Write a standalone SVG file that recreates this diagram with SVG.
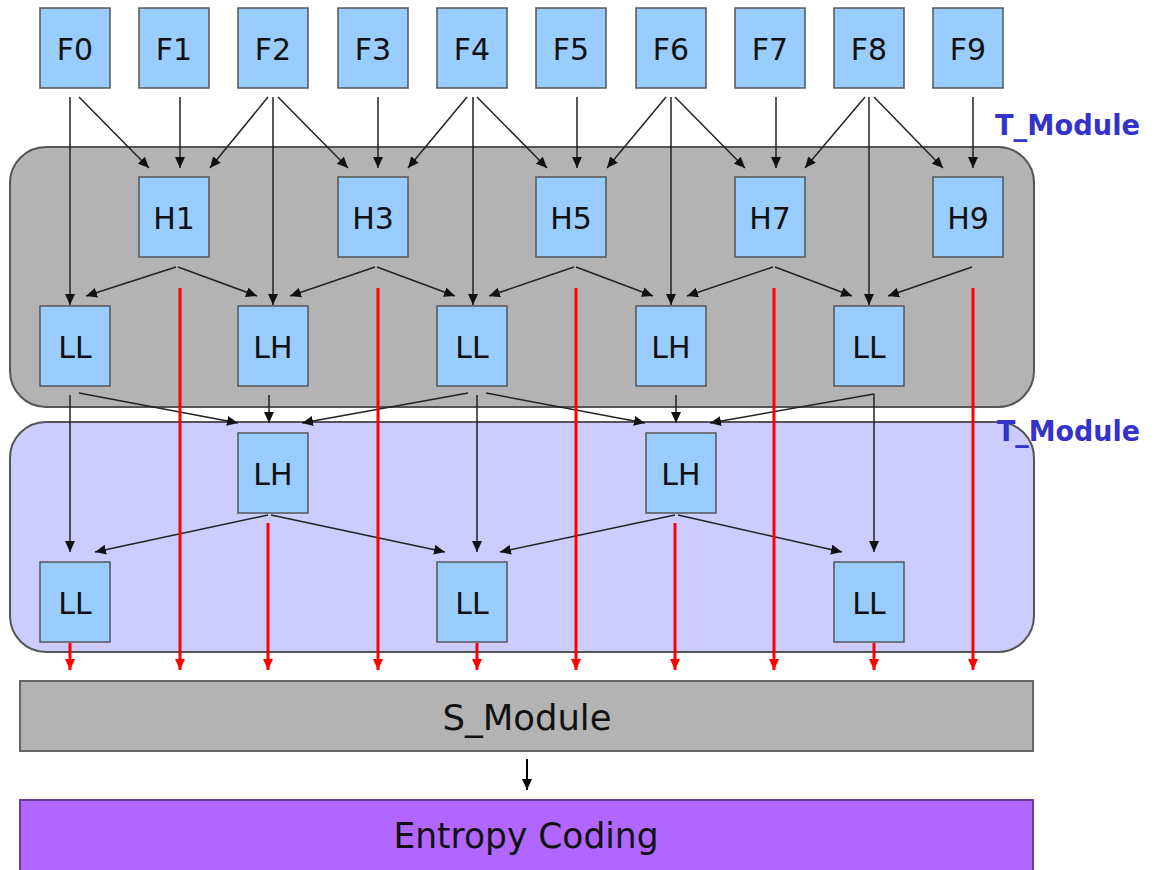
<svg xmlns="http://www.w3.org/2000/svg" width="1157" height="870" viewBox="0 0 1157 870">
  <defs>
    <style>
      .frame { fill: #99ccff; stroke: #555555; stroke-width: 1.5; }
      .lbl { font-family: "DejaVu Sans", "Liberation Sans", sans-serif; font-size: 30px; fill: #111111; text-anchor: middle; }
      .big { font-family: "DejaVu Sans", "Liberation Sans", sans-serif; font-size: 36px; fill: #111111; text-anchor: middle; }
      .tag { font-family: "DejaVu Sans", "Liberation Sans", sans-serif; font-size: 28px; font-weight: bold; fill: #3333cc; }
      .link { stroke: #222222; stroke-width: 1.5; fill: none; marker-end: url(#head); }
      .flow { stroke: #ff0000; stroke-width: 3; fill: none; marker-end: url(#redhead); }
    </style>
    <marker id="head" markerUnits="userSpaceOnUse" markerWidth="12" markerHeight="10" refX="11" refY="5" orient="auto">
      <path d="M0,0 L11,5 L0,10 Z" fill="#111111"/>
    </marker>
    <marker id="redhead" markerUnits="userSpaceOnUse" markerWidth="12" markerHeight="10" refX="11" refY="5" orient="auto">
      <path d="M0,0 L11,5 L0,10 Z" fill="#ff0000"/>
    </marker>
    <marker id="bighead" markerUnits="userSpaceOnUse" markerWidth="12" markerHeight="10" refX="11" refY="5" orient="auto">
      <path d="M0,0 L11,5 L0,10 Z" fill="#000000"/>
    </marker>
  </defs>

  <rect x="0" y="0" width="1157" height="870" fill="#ffffff"/>

  <!-- temporal module regions -->
  <g id="regions">
    <rect id="t-module-1" x="10" y="147" width="1024" height="260" rx="36" ry="36" fill="#b3b3b3" stroke="#555555" stroke-width="2"/>
    <rect id="t-module-2" x="10" y="422" width="1024" height="230" rx="36" ry="36" fill="#ccccff" stroke="#555555" stroke-width="2"/>
    <text class="tag" x="995" y="135" textLength="145" lengthAdjust="spacingAndGlyphs">T_Module</text>
    <text class="tag" x="997" y="441" textLength="143" lengthAdjust="spacingAndGlyphs">T_Module</text>
  </g>

  <!-- connectors -->
  <g id="connectors">
    <!-- input frames to high-pass and low-pass stages -->
    <line class="link" x1="70" y1="97" x2="70" y2="305"/>
    <line class="link" x1="79" y1="97" x2="149" y2="168"/>
    <line class="link" x1="180" y1="97" x2="180" y2="168"/>
    <line class="link" x1="268" y1="97" x2="210" y2="168"/>
    <line class="link" x1="273" y1="97" x2="273" y2="305"/>
    <line class="link" x1="278" y1="97" x2="348" y2="168"/>
    <line class="link" x1="378" y1="97" x2="378" y2="168"/>
    <line class="link" x1="467" y1="97" x2="408" y2="168"/>
    <line class="link" x1="473" y1="97" x2="473" y2="305"/>
    <line class="link" x1="477" y1="97" x2="547" y2="168"/>
    <line class="link" x1="577" y1="97" x2="577" y2="168"/>
    <line class="link" x1="666" y1="97" x2="607" y2="168"/>
    <line class="link" x1="671" y1="97" x2="671" y2="305"/>
    <line class="link" x1="675" y1="97" x2="745" y2="168"/>
    <line class="link" x1="776" y1="97" x2="776" y2="168"/>
    <line class="link" x1="865" y1="97" x2="805" y2="168"/>
    <line class="link" x1="869" y1="97" x2="869" y2="305"/>
    <line class="link" x1="874" y1="97" x2="943" y2="168"/>
    <line class="link" x1="973" y1="97" x2="973" y2="168"/>

    <!-- high-pass frames to first low-pass row -->
    <line class="link" x1="176" y1="267" x2="86" y2="296"/>
    <line class="link" x1="178" y1="267" x2="257" y2="296"/>
    <line class="link" x1="375" y1="267" x2="290" y2="296"/>
    <line class="link" x1="377" y1="267" x2="455" y2="296"/>
    <line class="link" x1="574" y1="267" x2="489" y2="296"/>
    <line class="link" x1="576" y1="267" x2="653" y2="296"/>
    <line class="link" x1="773" y1="267" x2="687" y2="296"/>
    <line class="link" x1="775" y1="267" x2="852" y2="296"/>
    <line class="link" x1="972" y1="267" x2="888" y2="296"/>

    <!-- first low-pass row to second module -->
    <line class="link" x1="70" y1="395" x2="70" y2="552"/>
    <line class="link" x1="79" y1="393" x2="238" y2="423"/>
    <line class="link" x1="269" y1="395" x2="269" y2="423"/>
    <line class="link" x1="468" y1="393" x2="302" y2="423"/>
    <line class="link" x1="477" y1="395" x2="477" y2="552"/>
    <line class="link" x1="486" y1="393" x2="645" y2="423"/>
    <line class="link" x1="676" y1="395" x2="676" y2="423"/>
    <line class="link" x1="874" y1="394" x2="710" y2="423"/>
    <line class="link" x1="874" y1="394" x2="874" y2="552"/>

    <!-- second module high-pass to last low-pass row -->
    <line class="link" x1="268" y1="515" x2="95" y2="552"/>
    <line class="link" x1="271" y1="515" x2="445" y2="552"/>
    <line class="link" x1="675" y1="515" x2="500" y2="552"/>
    <line class="link" x1="678" y1="515" x2="842" y2="552"/>

    <!-- outputs into the spatial module -->
    <line class="flow" x1="180" y1="288" x2="180" y2="670"/>
    <line class="flow" x1="378" y1="288" x2="378" y2="670"/>
    <line class="flow" x1="576" y1="288" x2="576" y2="670"/>
    <line class="flow" x1="774" y1="288" x2="774" y2="670"/>
    <line class="flow" x1="973" y1="288" x2="973" y2="670"/>
    <line class="flow" x1="268" y1="523" x2="268" y2="670"/>
    <line class="flow" x1="675" y1="523" x2="675" y2="670"/>
    <line class="flow" x1="70" y1="643" x2="70" y2="670"/>
    <line class="flow" x1="477" y1="643" x2="477" y2="670"/>
    <line class="flow" x1="874" y1="643" x2="874" y2="670"/>

    <line x1="527" y1="759" x2="527" y2="790" stroke="#000000" stroke-width="2" marker-end="url(#bighead)"/>
  </g>

  <!-- input frames -->
  <g id="F0"><rect class="frame" x="40" y="8" width="70" height="80"/><text class="lbl" x="75" y="60">F0</text></g>
  <g id="F1"><rect class="frame" x="139" y="8" width="70" height="80"/><text class="lbl" x="174" y="60">F1</text></g>
  <g id="F2"><rect class="frame" x="238" y="8" width="70" height="80"/><text class="lbl" x="273" y="60">F2</text></g>
  <g id="F3"><rect class="frame" x="338" y="8" width="70" height="80"/><text class="lbl" x="373" y="60">F3</text></g>
  <g id="F4"><rect class="frame" x="437" y="8" width="70" height="80"/><text class="lbl" x="472" y="60">F4</text></g>
  <g id="F5"><rect class="frame" x="536" y="8" width="70" height="80"/><text class="lbl" x="571" y="60">F5</text></g>
  <g id="F6"><rect class="frame" x="636" y="8" width="70" height="80"/><text class="lbl" x="671" y="60">F6</text></g>
  <g id="F7"><rect class="frame" x="735" y="8" width="70" height="80"/><text class="lbl" x="770" y="60">F7</text></g>
  <g id="F8"><rect class="frame" x="834" y="8" width="70" height="80"/><text class="lbl" x="869" y="60">F8</text></g>
  <g id="F9"><rect class="frame" x="933" y="8" width="70" height="80"/><text class="lbl" x="968" y="60">F9</text></g>

  <!-- high-pass frames -->
  <g id="H1"><rect class="frame" x="139" y="177" width="70" height="80"/><text class="lbl" x="174" y="229">H1</text></g>
  <g id="H3"><rect class="frame" x="338" y="177" width="70" height="80"/><text class="lbl" x="373" y="229">H3</text></g>
  <g id="H5"><rect class="frame" x="536" y="177" width="70" height="80"/><text class="lbl" x="571" y="229">H5</text></g>
  <g id="H7"><rect class="frame" x="735" y="177" width="70" height="80"/><text class="lbl" x="770" y="229">H7</text></g>
  <g id="H9"><rect class="frame" x="933" y="177" width="70" height="80"/><text class="lbl" x="968" y="229">H9</text></g>

  <!-- first decomposition level -->
  <g id="L1-0"><rect class="frame" x="40" y="306" width="70" height="80"/><text class="lbl" x="75" y="358">LL</text></g>
  <g id="L1-1"><rect class="frame" x="238" y="306" width="70" height="80"/><text class="lbl" x="273" y="358">LH</text></g>
  <g id="L1-2"><rect class="frame" x="437" y="306" width="70" height="80"/><text class="lbl" x="472" y="358">LL</text></g>
  <g id="L1-3"><rect class="frame" x="636" y="306" width="70" height="80"/><text class="lbl" x="671" y="358">LH</text></g>
  <g id="L1-4"><rect class="frame" x="834" y="306" width="70" height="80"/><text class="lbl" x="869" y="358">LL</text></g>

  <!-- second decomposition level -->
  <g id="L2-0"><rect class="frame" x="238" y="433" width="70" height="80"/><text class="lbl" x="273" y="485">LH</text></g>
  <g id="L2-1"><rect class="frame" x="646" y="433" width="70" height="80"/><text class="lbl" x="681" y="485">LH</text></g>

  <g id="L3-0"><rect class="frame" x="40" y="562" width="70" height="80"/><text class="lbl" x="75" y="614">LL</text></g>
  <g id="L3-1"><rect class="frame" x="437" y="562" width="70" height="80"/><text class="lbl" x="472" y="614">LL</text></g>
  <g id="L3-2"><rect class="frame" x="834" y="562" width="70" height="80"/><text class="lbl" x="869" y="614">LL</text></g>

  <!-- spatial module and entropy coder -->
  <g id="S_Module">
    <rect x="20" y="681" width="1013" height="70" fill="#b3b3b3" stroke="#666666" stroke-width="2"/>
    <text class="big" x="527" y="730" textLength="169" lengthAdjust="spacingAndGlyphs">S_Module</text>
  </g>
  <g id="EntropyCoding">
    <rect x="20" y="800" width="1013" height="80" fill="#b066ff" stroke="#6a3d99" stroke-width="2"/>
    <text class="big" x="526" y="848" textLength="265" lengthAdjust="spacingAndGlyphs">Entropy Coding</text>
  </g>
</svg>
